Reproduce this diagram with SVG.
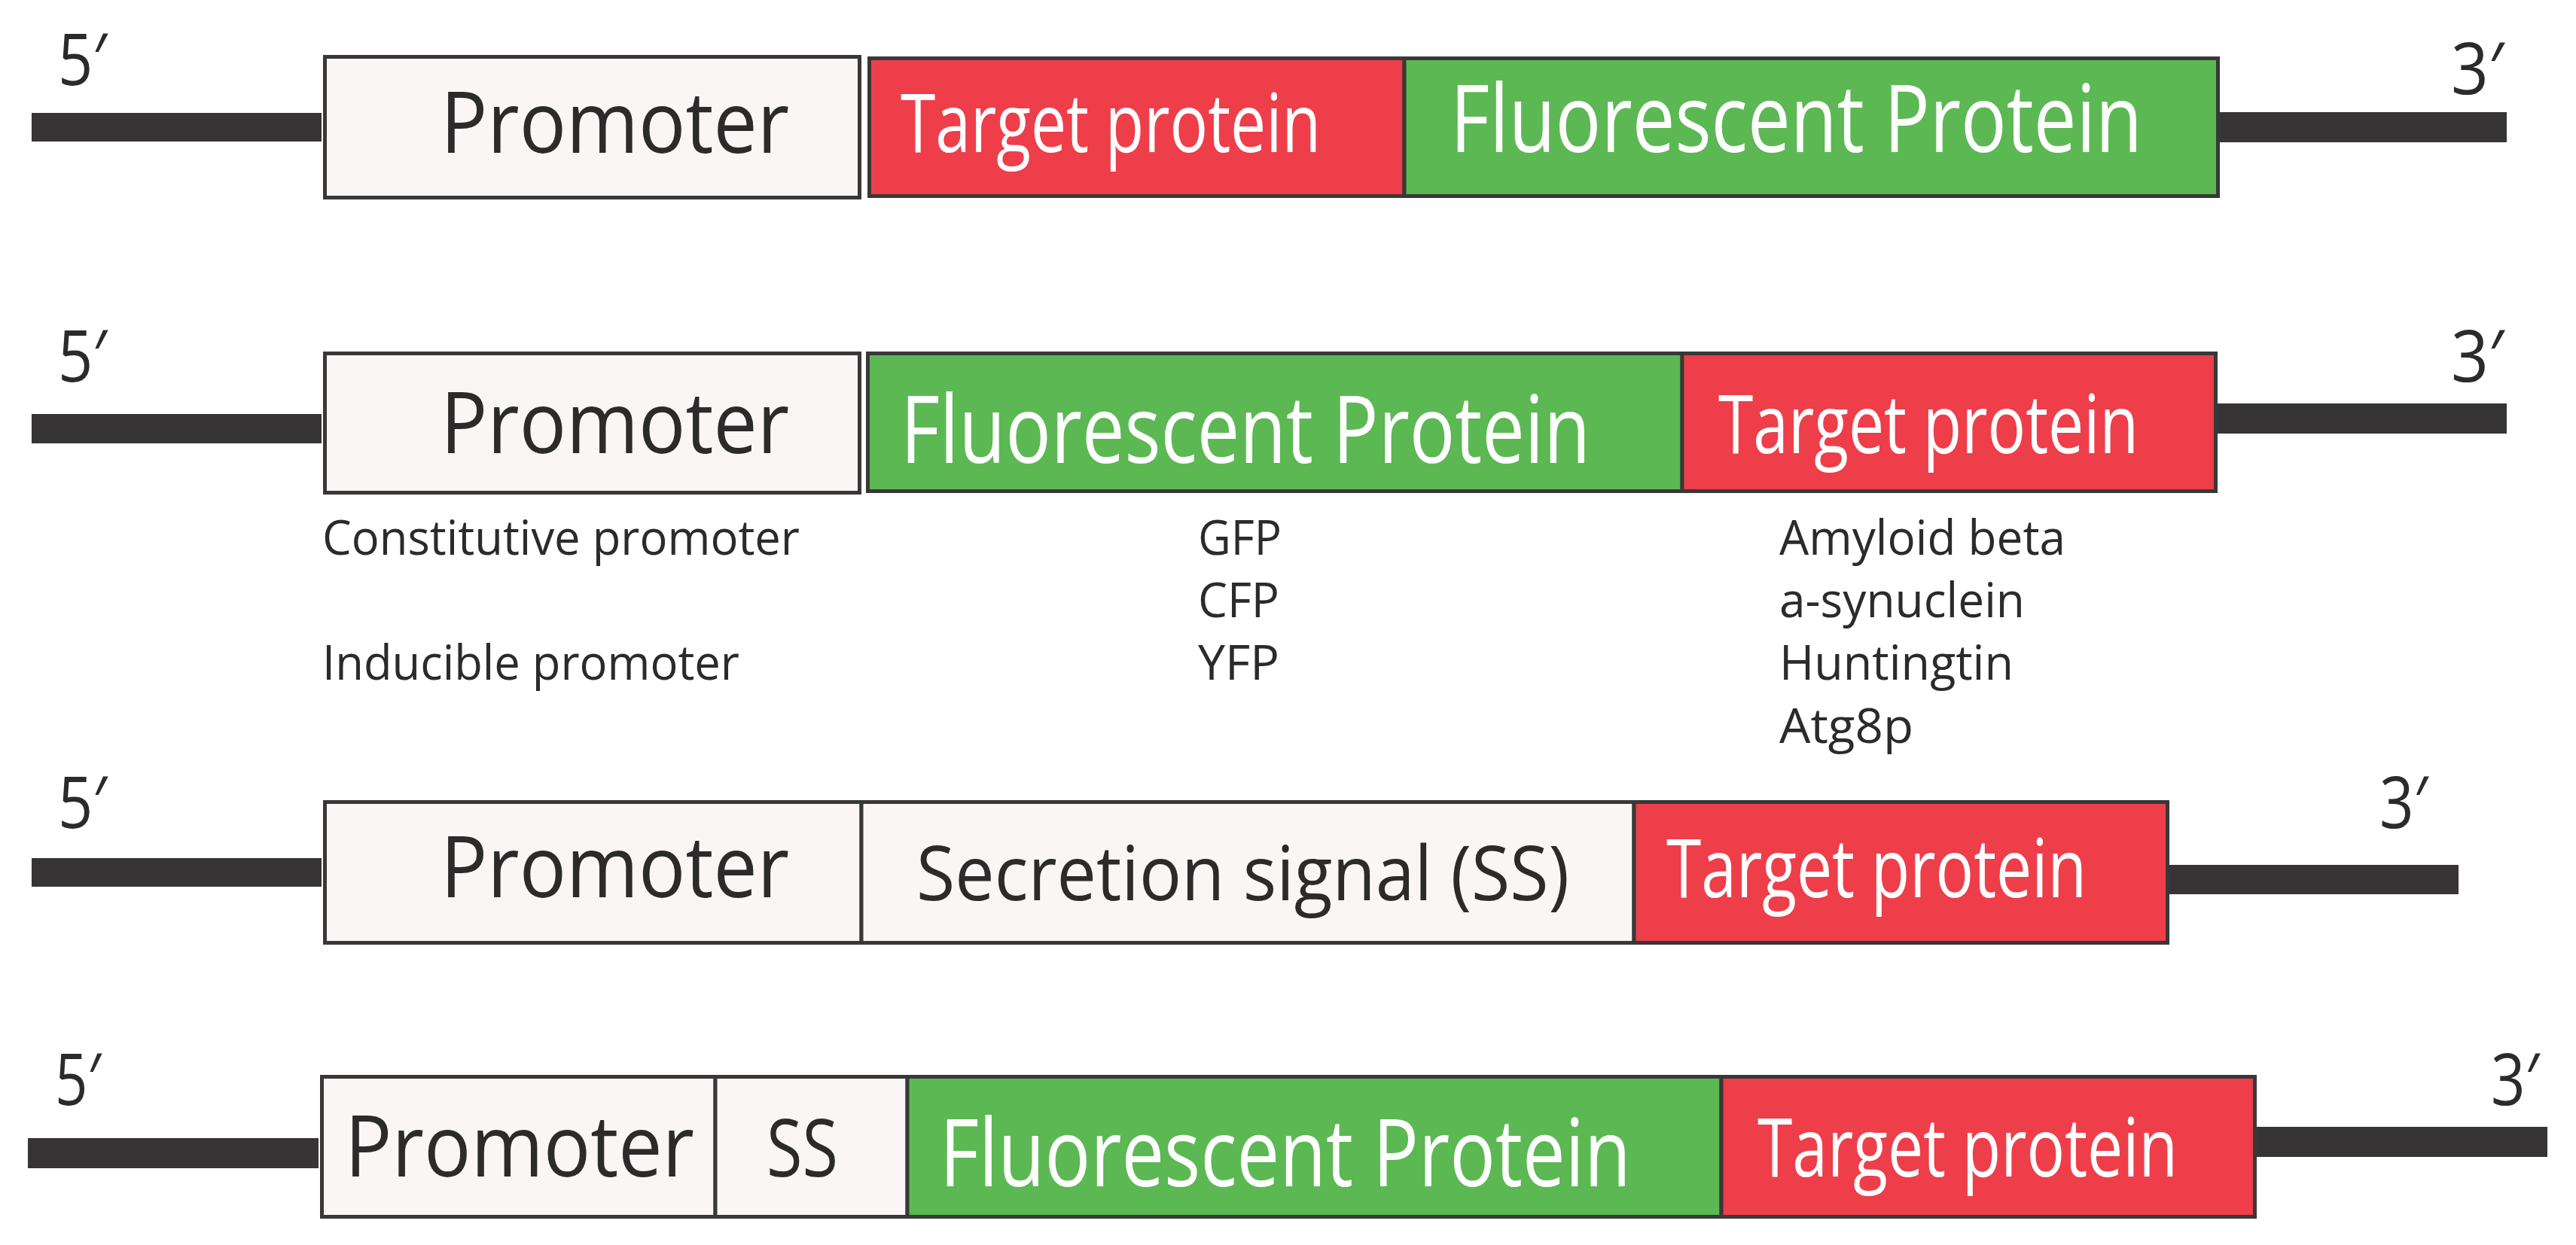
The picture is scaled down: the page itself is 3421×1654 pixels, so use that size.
<svg xmlns="http://www.w3.org/2000/svg" width="3421" height="1654" viewBox="0 0 3421 1654">
<style>
.bg{fill:#ffffff}
.box{stroke:#383838;stroke-width:5}
.prom{fill:#f9f6f5}
.red{fill:#ee3e4a}
.green{fill:#5cb853}
.bar{fill:#363435}
text{font-family:"Open Sans","Noto Sans","DejaVu Sans",sans-serif}
.dk{fill:#2b2b2b}
.wt{fill:#ffffff}
.end{font-size:95px;fill:#2b2b2b}
.lbl{font-size:64px;fill:#2b2b2b}
</style>
<rect class="bg" x="0" y="0" width="3421" height="1654"/>

<g id="strands">
<rect class="bar" x="42" y="150" width="385" height="38"/>
<rect class="bar" x="2946" y="149" width="383" height="40"/>
<rect class="bar" x="42" y="550" width="385" height="39"/>
<rect class="bar" x="2943" y="536" width="386" height="40"/>
<rect class="bar" x="42" y="1140" width="385" height="38"/>
<rect class="bar" x="2879" y="1149" width="386" height="39"/>
<rect class="bar" x="37" y="1512" width="386" height="40"/>
<rect class="bar" x="2995" y="1497" width="388" height="40"/>
</g>

<g id="row1">
<text class="end" x="77" y="113" textLength="65" lengthAdjust="spacingAndGlyphs">5′</text>
<text class="end" x="3255" y="125" textLength="70" lengthAdjust="spacingAndGlyphs">3′</text>
<g id="r1-promoter">
<rect class="box prom" x="431.5" y="75.5" width="710" height="187"/>
<text class="dk" x="585" y="203" font-size="113" textLength="463" lengthAdjust="spacingAndGlyphs">Promoter</text>
</g>
<g id="r1-target">
<rect class="box red" x="1154.5" y="77.5" width="710.5" height="183"/>
<text class="wt" x="1196" y="202" font-size="108" textLength="558" lengthAdjust="spacingAndGlyphs">Target protein</text>
</g>
<g id="r1-fluor">
<rect class="box green" x="1865" y="77.5" width="1080.5" height="183"/>
<text class="wt" x="1926" y="202" font-size="125" textLength="919" lengthAdjust="spacingAndGlyphs">Fluorescent Protein</text>
</g>
</g>

<g id="row2">
<text class="end" x="77" y="507" textLength="65" lengthAdjust="spacingAndGlyphs">5′</text>
<text class="end" x="3255" y="507" textLength="70" lengthAdjust="spacingAndGlyphs">3′</text>
<g id="r2-promoter">
<rect class="box prom" x="431.5" y="469.5" width="710" height="185"/>
<text class="dk" x="585" y="602" font-size="113" textLength="463" lengthAdjust="spacingAndGlyphs">Promoter</text>
</g>
<g id="r2-fluor">
<rect class="box green" x="1152.5" y="469.5" width="1081.5" height="183"/>
<text class="wt" x="1196" y="615" font-size="125" textLength="916" lengthAdjust="spacingAndGlyphs">Fluorescent Protein</text>
</g>
<g id="r2-target">
<rect class="box red" x="2234" y="469.5" width="708.5" height="183"/>
<text class="wt" x="2282" y="602" font-size="108" textLength="558" lengthAdjust="spacingAndGlyphs">Target protein</text>
</g>
<g id="r2-notes">
<text class="lbl" x="428" y="737" textLength="634" lengthAdjust="spacingAndGlyphs">Constitutive promoter</text>
<text class="lbl" x="428" y="903" textLength="554" lengthAdjust="spacingAndGlyphs">Inducible promoter</text>
<text class="lbl" x="1591" y="737" textLength="111" lengthAdjust="spacingAndGlyphs">GFP</text>
<text class="lbl" x="1591" y="820" textLength="108" lengthAdjust="spacingAndGlyphs">CFP</text>
<text class="lbl" x="1591" y="903" textLength="108" lengthAdjust="spacingAndGlyphs">YFP</text>
<text class="lbl" x="2363" y="737" textLength="380" lengthAdjust="spacingAndGlyphs">Amyloid beta</text>
<text class="lbl" x="2363" y="820" textLength="326" lengthAdjust="spacingAndGlyphs">a-synuclein</text>
<text class="lbl" x="2363" y="903" textLength="311" lengthAdjust="spacingAndGlyphs">Huntingtin</text>
<text class="lbl" x="2363" y="987" textLength="178" lengthAdjust="spacingAndGlyphs">Atg8p</text>
</g>
</g>

<g id="row3">
<text class="end" x="77" y="1100" textLength="65" lengthAdjust="spacingAndGlyphs">5′</text>
<text class="end" x="3160" y="1100" textLength="64" lengthAdjust="spacingAndGlyphs">3′</text>
<g id="r3-promoter">
<rect class="box prom" x="431.5" y="1065.5" width="712.5" height="187"/>
<text class="dk" x="585" y="1192" font-size="113" textLength="463" lengthAdjust="spacingAndGlyphs">Promoter</text>
</g>
<g id="r3-ss">
<rect class="box prom" x="1144" y="1065.5" width="1026" height="187"/>
<text class="dk" x="1217" y="1196" font-size="100" textLength="867" lengthAdjust="spacingAndGlyphs">Secretion signal (SS)</text>
</g>
<g id="r3-target">
<rect class="box red" x="2170" y="1065.5" width="708.5" height="187"/>
<text class="wt" x="2213" y="1192" font-size="108" textLength="558" lengthAdjust="spacingAndGlyphs">Target protein</text>
</g>
</g>

<g id="row4">
<text class="end" x="73" y="1468" textLength="61" lengthAdjust="spacingAndGlyphs">5′</text>
<text class="end" x="3308" y="1468" textLength="64" lengthAdjust="spacingAndGlyphs">3′</text>
<g id="r4-promoter">
<rect class="box prom" x="427.5" y="1430.5" width="522.5" height="186"/>
<text class="dk" x="458" y="1563" font-size="113" textLength="464" lengthAdjust="spacingAndGlyphs">Promoter</text>
</g>
<g id="r4-ss">
<rect class="box prom" x="950" y="1430.5" width="255" height="186"/>
<text class="dk" x="1018" y="1563" font-size="106" textLength="95" lengthAdjust="spacingAndGlyphs">SS</text>
</g>
<g id="r4-fluor">
<rect class="box green" x="1205" y="1430.5" width="1081" height="186"/>
<text class="wt" x="1248" y="1576" font-size="125" textLength="918" lengthAdjust="spacingAndGlyphs">Fluorescent Protein</text>
</g>
<g id="r4-target">
<rect class="box red" x="2286" y="1430.5" width="708.5" height="186"/>
<text class="wt" x="2334" y="1563" font-size="108" textLength="558" lengthAdjust="spacingAndGlyphs">Target protein</text>
</g>
</g>
</svg>
